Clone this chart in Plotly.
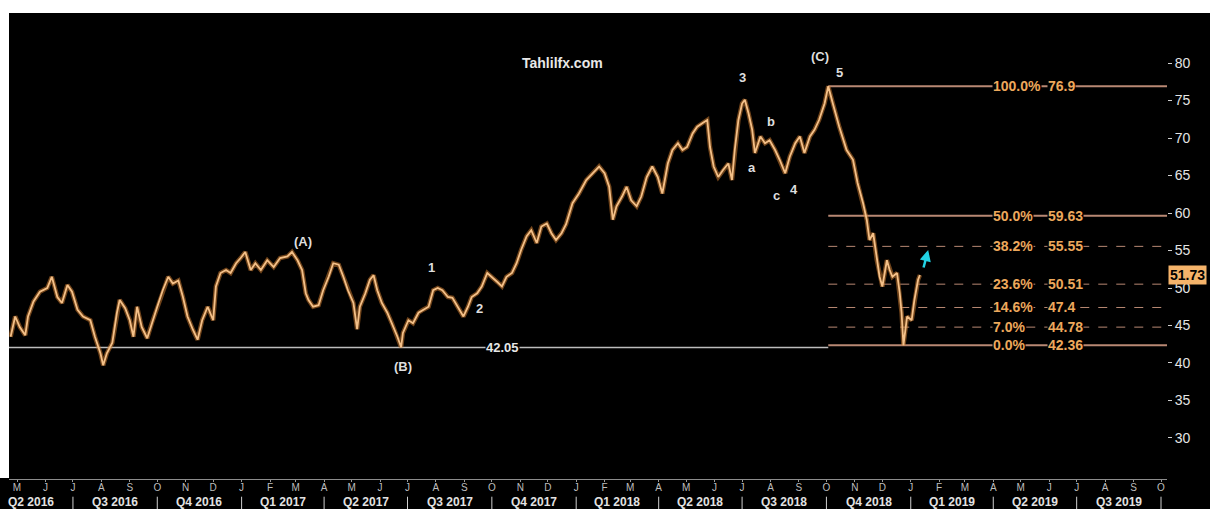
import plotly.graph_objects as go
import pandas as pd

# ---------------- data ----------------
dates = [
    "2016-04-24", "2016-04-29", "2016-05-04", "2016-05-10", "2016-05-13", "2016-05-19", "2016-05-26",
    "2016-06-03", "2016-06-08", "2016-06-14", "2016-06-19", "2016-06-25", "2016-06-30",
    "2016-07-06", "2016-07-12", "2016-07-20", "2016-07-25", "2016-07-31",
    "2016-08-03", "2016-08-07", "2016-08-13", "2016-08-18", "2016-08-21", "2016-08-27",
    "2016-09-01", "2016-09-05", "2016-09-09", "2016-09-14", "2016-09-20", "2016-09-25",
    "2016-10-01", "2016-10-07", "2016-10-13", "2016-10-18", "2016-10-24", "2016-10-29",
    "2016-11-03", "2016-11-09", "2016-11-14", "2016-11-19", "2016-11-25",
    "2016-12-01", "2016-12-04", "2016-12-09", "2016-12-15", "2016-12-20", "2016-12-26", "2016-12-31",
    "2017-01-05", "2017-01-11", "2017-01-16", "2017-01-22", "2017-01-29",
    "2017-02-05", "2017-02-12", "2017-02-20", "2017-02-25",
    "2017-03-03", "2017-03-08", "2017-03-12", "2017-03-15", "2017-03-20", "2017-03-26", "2017-03-31",
    "2017-04-06", "2017-04-11", "2017-04-17", "2017-04-22", "2017-04-27",
    "2017-05-03", "2017-05-07", "2017-05-10", "2017-05-16", "2017-05-21", "2017-05-25", "2017-05-29",
    "2017-06-03", "2017-06-09", "2017-06-14", "2017-06-20", "2017-06-24", "2017-06-26",
    "2017-07-02", "2017-07-07", "2017-07-13", "2017-07-18", "2017-07-24", "2017-07-29",
    "2017-08-03", "2017-08-08", "2017-08-14", "2017-08-19", "2017-08-25", "2017-08-31",
    "2017-09-05", "2017-09-09", "2017-09-15", "2017-09-20", "2017-09-26",
    "2017-10-01", "2017-10-07", "2017-10-12", "2017-10-17", "2017-10-23", "2017-10-28",
    "2017-11-02", "2017-11-08", "2017-11-13", "2017-11-19", "2017-11-24", "2017-11-30",
    "2017-12-05", "2017-12-10", "2017-12-16", "2017-12-21", "2017-12-28",
    "2018-01-04", "2018-01-12", "2018-01-19", "2018-01-26",
    "2018-02-01", "2018-02-06", "2018-02-10", "2018-02-14", "2018-02-20", "2018-02-25",
    "2018-03-02", "2018-03-08", "2018-03-13", "2018-03-19", "2018-03-25", "2018-03-31",
    "2018-04-05", "2018-04-11", "2018-04-16", "2018-04-22", "2018-04-27",
    "2018-05-02", "2018-05-08", "2018-05-13", "2018-05-19", "2018-05-24", "2018-05-27", "2018-05-31",
    "2018-06-05", "2018-06-10", "2018-06-16", "2018-06-20", "2018-06-23", "2018-06-27",
    "2018-07-01", "2018-07-04", "2018-07-08", "2018-07-12", "2018-07-15", "2018-07-21", "2018-07-26", "2018-07-31",
    "2018-08-06", "2018-08-11", "2018-08-17", "2018-08-22", "2018-08-28",
    "2018-09-02", "2018-09-07", "2018-09-13", "2018-09-18", "2018-09-23", "2018-09-29",
    "2018-10-03", "2018-10-08", "2018-10-15", "2018-10-23", "2018-10-30",
    "2018-11-04", "2018-11-10", "2018-11-14", "2018-11-17", "2018-11-21", "2018-11-25", "2018-11-28",
    "2018-12-01", "2018-12-06", "2018-12-09", "2018-12-12", "2018-12-17", "2018-12-20", "2018-12-22",
    "2018-12-24", "2018-12-28",
    "2019-01-02", "2019-01-05", "2019-01-09", "2019-01-11",
]
prices = [
    43.5, 46.2, 44.8, 43.7, 46.2, 48.2, 49.5,
    50.0, 51.5, 48.8, 48.0, 50.4, 49.5,
    47.1, 46.2, 45.7, 43.5, 41.3,
    39.7, 41.3, 42.7, 46.7, 48.4, 47.3,
    45.7, 43.5, 47.5, 44.8, 43.3, 45.3,
    47.5, 49.7, 51.5, 50.6, 51.0, 48.8,
    46.2, 44.4, 43.1, 45.7, 47.5,
    45.7, 50.2, 52.0, 52.4, 52.0, 53.3, 54.0,
    54.8, 52.4, 53.3, 52.4, 53.7,
    52.8, 54.0, 54.2, 54.8,
    53.7, 52.4, 49.3, 48.4, 47.5, 47.7, 49.7,
    51.5, 53.3, 53.1, 51.5, 49.7,
    48.0, 44.5, 47.5, 49.3, 51.1, 51.7, 49.7,
    48.0, 46.7, 45.3, 43.5, 42.1, 44.0,
    45.7, 45.3, 46.7, 47.1, 47.5, 49.7,
    50.0, 49.7, 48.8, 48.7, 47.5, 46.2,
    47.5, 48.8, 49.3, 50.2, 52.0,
    51.5, 50.8, 50.2, 51.5, 52.0, 53.3,
    55.1, 56.9, 57.7, 56.0, 58.2, 58.6,
    57.3, 56.4, 57.3, 58.5, 61.3,
    62.6, 64.4, 65.3, 66.2,
    65.3, 63.5, 59.1, 60.9, 62.2, 63.5,
    61.7, 60.9, 62.2, 64.8, 66.2, 64.8,
    62.6, 66.6, 68.4, 69.3, 68.4,
    68.8, 70.6, 71.5, 72.0, 72.4, 68.8, 66.2,
    64.8, 65.7, 66.6, 64.4, 68.4, 72.4,
    74.6, 75.1, 73.3, 71.1, 68.0, 70.2, 69.3, 69.7,
    68.4, 67.1, 65.3, 67.5, 69.3,
    70.2, 68.0, 70.2, 71.1, 72.4, 74.6,
    76.9, 74.6, 71.5, 68.4, 67.1,
    64.0, 61.3, 59.1, 56.4, 57.3, 53.7, 51.5,
    50.2, 53.7, 52.4, 51.5, 52.0, 49.3, 46.7,
    42.36, 46.2,
    45.7, 48.4, 51.1, 51.73,
]

fib_pct = ["100.0%", "50.0%", "38.2%", "23.6%", "14.6%", "7.0%", "0.0%"]
fib_vals = [76.9, 59.63, 55.55, 50.51, 47.4, 44.78, 42.36]
fib_solid = [True, True, False, False, False, False, True]

support_val = 42.05
last_price = 51.73

wave_labels = ["(A)", "(B)", "1", "2", "3", "a", "b", "c", "4", "(C)", "5"]
wave_dates = ["2017-03-09", "2017-06-26", "2017-07-27", "2017-09-18", "2018-07-01",
              "2018-07-12", "2018-08-02", "2018-08-07", "2018-08-27", "2018-09-24", "2018-10-15"]
wave_vals = [56.2, 39.5, 52.8, 47.3, 78.1, 66.1, 72.2, 62.4, 63.1, 80.9, 78.8]

brand_text = "Tahlilfx.com"
brand_date, brand_val = "2017-12-17", 80.0
arrow_date, arrow_val = "2019-01-20", 55.07

y_ticks = [30, 35, 40, 45, 50, 55, 60, 65, 70, 75, 80]
x_start, x_end = "2016-04-22 06:00", "2019-10-07 13:00"
y_low, y_high = 24.53, 86.67

months = pd.date_range("2016-05-01", "2019-10-01", freq="MS")
month_letters = ["JFMAMJJASOND"[d.month - 1] for d in months]
quarter_starts = pd.date_range("2016-04-01", "2019-07-01", freq="QS")
quarter_labels = [f"Q{(d.month - 1) // 3 + 1} {d.year}" for d in quarter_starts]
separator_dates = pd.date_range("2016-07-01", "2019-10-01", freq="QS")

# ---------------- styling ----------------
FONT = "Liberation Sans, Arial, sans-serif"
LINE_COL = "#f4c088"
FIB_LINE = "#b88873"
FIB_TEXT = "#eda85c"
WHITE_TXT = "#dedede"

peak_date = dates[prices.index(max(prices))]

fig = go.Figure()
# glow under price
fig.add_trace(go.Scatter(x=dates, y=prices, mode="lines",
                         line=dict(color="#c9782e", width=4.5), opacity=0.55,
                         hoverinfo="skip", showlegend=False))
fig.add_trace(go.Scatter(x=dates, y=prices, mode="lines",
                         line=dict(color=LINE_COL, width=1.8),
                         hoverinfo="skip", showlegend=False))

shapes = []
annotations = []

# support line 42.05
shapes.append(dict(type="line", xref="x", yref="y", x0=x_start, x1=peak_date,
                   y0=support_val, y1=support_val, line=dict(color="#bdbdbd", width=1.5), layer="below"))
annotations.append(dict(x="2017-10-13", y=support_val, xref="x", yref="y", text=f"<b>{support_val:.2f}</b>",
                        showarrow=False, font=dict(family=FONT, size=13, color="#e6e6e6"),
                        bgcolor="black", borderpad=0, xanchor="center", yanchor="middle"))

# fibonacci levels
for pct, val, solid in zip(fib_pct, fib_vals, fib_solid):
    shapes.append(dict(type="line", xref="x", yref="y", x0=peak_date, x1=x_end, y0=val, y1=val,
                       line=dict(color=FIB_LINE, width=2 if solid else 1,
                                 dash="solid" if solid else "dash"), layer="below"))
    annotations.append(dict(x="2019-03-31", y=val, xref="x", yref="y", text=f"<b>{pct}</b>",
                            showarrow=False, font=dict(family=FONT, size=14, color=FIB_TEXT),
                            bgcolor="black", borderpad=0, xanchor="left", yanchor="middle"))
    annotations.append(dict(x="2019-05-30", y=val, xref="x", yref="y", text=f"<b>{val:g}</b>",
                            showarrow=False, font=dict(family=FONT, size=14, color=FIB_TEXT),
                            bgcolor="black", borderpad=0, xanchor="left", yanchor="middle"))

# wave labels
for t, d, v in zip(wave_labels, wave_dates, wave_vals):
    annotations.append(dict(x=d, y=v, xref="x", yref="y", text=f"<b>{t}</b>", showarrow=False,
                            font=dict(family=FONT, size=13, color=WHITE_TXT),
                            xanchor="center", yanchor="middle"))

annotations.append(dict(x=brand_date, y=brand_val, xref="x", yref="y", text=f"<b>{brand_text}</b>",
                        showarrow=False, font=dict(family=FONT, size=14, color="#e8e8e8"),
                        xanchor="center", yanchor="middle"))

# cyan arrow
annotations.append(dict(x=arrow_date, y=arrow_val, xref="x", yref="y", text="", showarrow=True,
                        ax=-5, ay=19, arrowcolor="#22d2e4", arrowwidth=2.5, arrowhead=2,
                        arrowsize=0.9, standoff=0))

# last price box
annotations.append(dict(x=1, y=last_price, xref="paper", yref="y", text=f"<b>{last_price:.2f}</b>",
                        showarrow=False, font=dict(family=FONT, size=14, color="black"),
                        bgcolor="#f5b36a", borderpad=1, xanchor="left", yanchor="middle", xshift=1))

# quarter labels and separators
for qs, lab in zip(quarter_starts, quarter_labels):
    qe = qs + pd.DateOffset(months=3)
    mid = qs + (qe - qs) / 2
    annotations.append(dict(x=mid, y=-0.0494, xref="x", yref="paper", text=f"<b>{lab}</b>",
                            showarrow=False, font=dict(family=FONT, size=12, color="#e2e2e2"),
                            xanchor="center", yanchor="middle"))
for sd in separator_dates:
    shapes.append(dict(type="line", xref="x", yref="paper", x0=sd, x1=sd, y0=-0.038, y1=-0.07,
                       line=dict(color="#cfcfcf", width=1)))

# white page strips (top and left)
shapes.append(dict(type="rect", xref="paper", yref="paper", x0=-0.05, x1=1.1, y0=1, y1=1.2,
                   fillcolor="white", line=dict(width=0)))
shapes.append(dict(type="rect", xref="paper", yref="paper", x0=-0.05, x1=0, y0=0.002, y1=1.2,
                   fillcolor="white", line=dict(width=0)))

fig.update_layout(
    width=1210, height=509,
    margin=dict(l=9, r=43, t=13, b=30),
    paper_bgcolor="black", plot_bgcolor="black",
    showlegend=False,
    shapes=shapes, annotations=annotations,
    xaxis=dict(type="date", range=[x_start, x_end], showgrid=False, zeroline=False,
               tickmode="array", tickvals=list(months), ticktext=month_letters, tickangle=0,
               ticks="outside", ticklen=2, tickcolor="#9a9a9a", ticklabelstandoff=-3,
               tickfont=dict(family=FONT, size=10, color="#bdbdbd"),
               showline=True, linecolor="#8c8c8c", linewidth=1),
    yaxis=dict(range=[y_low, y_high], side="right", showgrid=False, zeroline=False,
               tickmode="array", tickvals=y_ticks, ticks="outside", ticklen=4, tickcolor="#cfcfcf",
               tickfont=dict(family=FONT, size=14, color="#e4e4e4"), showline=False),
)

fig.write_html("out.html", config={"displayModeBar": False},
               post_script="document.body.style.margin='0';document.body.style.overflow='hidden';")
